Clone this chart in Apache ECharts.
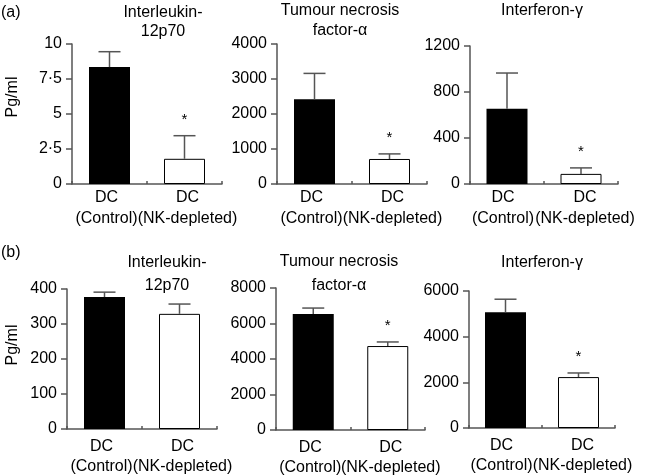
<!DOCTYPE html>
<html><head><meta charset="utf-8">
<script src="https://cdn.jsdelivr.net/npm/echarts@6/dist/echarts.min.js"></script>
<style>html,body{margin:0;padding:0;background:#fff}#c{width:648px;height:476px}</style>
</head><body><div id="c"></div>
<script>
const categories = ['DC\n(Control)', 'DC\n(NK-depleted)'];
const panelTitles = ['Interleukin-\n12p70', 'Tumour necrosis\nfactor-\u03b1', 'Interferon-\u03b3'];
const rowLabels = ['(a)', '(b)'];
const yAxisTitle = 'Pg/ml';
// Row (a)
const rowAMeans = [[8.35, 1.8], [2420, 715], [655, 88]];
const rowAErrTops = [[9.45, 3.45], [3160, 860], [965, 140]];
const rowASignificant = [[0, 1], [0, 1], [0, 1]];
const rowAMax = [10, 4000, 1200];
const rowAStep = [2.5, 1000, 400];
// Row (b)
const rowBMeans = [[377, 329], [6530, 4730], [5070, 2230]];
const rowBErrTops = [[391, 357], [6870, 4960], [5640, 2410]];
const rowBSignificant = [[0, 0], [0, 1], [0, 1]];
const rowBMax = [400, 8000, 6000];
const rowBStep = [100, 2000, 2000];

const FONT = "'Liberation Sans', Arial, sans-serif";
const AX = '#555';
const grids = [
  {left: 72, top: 44, width: 150, height: 140},
  {left: 277, top: 44, width: 150, height: 140},
  {left: 470, top: 46, width: 148, height: 138},
  {left: 67, top: 289, width: 150, height: 140},
  {left: 276, top: 288, width: 149, height: 142},
  {left: 469, top: 291, width: 146, height: 137}
].map(g => Object.assign(g, {containLabel: false, outerBoundsMode: 'none'}));
const labelMargins = [3, 3, 3, 8, 8, 8];
const labelPads = [6, 6, 8, 6, 6, 8];
const titlePos = [
  {x: 163, y: 13, lh: 19}, {x: 340, y: 11, lh: 20}, {x: 542, y: 11, lh: 20},
  {x: 167, y: 263, lh: 23}, {x: 339, y: 262, lh: 24}, {x: 542, y: 263, lh: 24}
];

const means = rowAMeans.concat(rowBMeans);
const tops = rowAErrTops.concat(rowBErrTops);
const sigs = rowASignificant.concat(rowBSignificant);
const maxes = rowAMax.concat(rowBMax);
const steps = rowAStep.concat(rowBStep);

function renderErr(params, api) {
  const x = api.value(0), m = api.value(1), t = api.value(2), s = api.value(3);
  const p0 = api.coord([x, m]);
  const p1 = api.coord([x, t]);
  const ch = [
    {type: 'line', shape: {x1: p0[0], y1: p0[1], x2: p1[0], y2: p1[1]}, style: {stroke: AX, lineWidth: 1.5}},
    {type: 'line', shape: {x1: p1[0] - 11, y1: p1[1], x2: p1[0] + 11, y2: p1[1]}, style: {stroke: AX, lineWidth: 1.5}}
  ];
  if (s) ch.push({type: 'text', x: p1[0], y: p1[1] - 16,
    style: {text: '*', fontSize: 15, fontFamily: FONT, fill: '#000', align: 'center', verticalAlign: 'middle'}});
  return {type: 'group', children: ch};
}

function catLabel(value, idx) {
  const parts = value.split('\n');
  const k = idx === 0 ? 'l' : 'r';
  return parts.map(p => '{' + k + '|' + p + '}').join('\n');
}

const xAxes = [], yAxes = [], series = [], graphics = [];
for (let i = 0; i < 6; i++) {
  const lh = i < 3 ? 21 : 20;
  const pd = labelPads[i];
  xAxes.push({
    type: 'category', gridIndex: i, data: categories,
    axisLine: {lineStyle: {color: AX, width: 1.5}},
    axisTick: {show: true, inside: true, length: 3, lineStyle: {color: AX, width: 1.5}},
    axisLabel: {fontSize: 16, fontFamily: FONT, color: '#000', lineHeight: lh, margin: labelMargins[i], interval: 0,
      formatter: catLabel,
      rich: {
        l: {fontSize: 16, fontFamily: FONT, color: '#000', lineHeight: lh, padding: [0, pd, 0, 0]},
        r: {fontSize: 16, fontFamily: FONT, color: '#000', lineHeight: lh, padding: [0, 0, 0, pd]}
      }}
  });
  yAxes.push({
    type: 'value', gridIndex: i, min: 0, max: maxes[i], interval: steps[i],
    axisLine: {show: true, lineStyle: {color: AX, width: 1.5}},
    axisTick: {show: true, length: 6, lineStyle: {color: AX, width: 1.5}},
    splitLine: {show: false},
    axisLabel: {fontSize: 16, fontFamily: FONT, color: '#000', margin: 10,
      formatter: v => String(v).replace('.', '\u00b7')}
  });
  series.push({
    type: 'bar', xAxisIndex: i, yAxisIndex: i, barWidth: 41, animation: false,
    data: means[i].map((v, j) => ({value: v, itemStyle: j === 0
      ? {color: '#000'} : {color: '#fff', borderColor: '#000', borderWidth: 1}}))
  });
  series.push({
    type: 'custom', xAxisIndex: i, yAxisIndex: i, animation: false, renderItem: renderErr,
    data: means[i].map((v, j) => [j, v, tops[i][j], sigs[i][j]]), z: 5
  });
  const tp = titlePos[i];
  const lines = panelTitles[i % 3].split('\n').length;
  graphics.push({type: 'text', x: tp.x, y: tp.y + (lines - 1) * tp.lh / 2,
    style: {text: panelTitles[i % 3], fontSize: 16, fontFamily: FONT, fill: '#000',
      align: 'center', verticalAlign: 'middle', lineHeight: tp.lh}});
}
graphics.push({type: 'text', x: 1, y: 13, style: {text: rowLabels[0], fontSize: 16, fontFamily: FONT, fill: '#000', align: 'left', verticalAlign: 'middle'}});
graphics.push({type: 'text', x: 1, y: 253, style: {text: rowLabels[1], fontSize: 16, fontFamily: FONT, fill: '#000', align: 'left', verticalAlign: 'middle'}});
graphics.push({type: 'text', x: 13, y: 97, rotation: Math.PI / 2, style: {text: yAxisTitle, fontSize: 16, fontFamily: FONT, fill: '#000', align: 'center', verticalAlign: 'middle'}});
graphics.push({type: 'text', x: 13, y: 345, rotation: Math.PI / 2, style: {text: yAxisTitle, fontSize: 16, fontFamily: FONT, fill: '#000', align: 'center', verticalAlign: 'middle'}});

const chart = echarts.init(document.getElementById('c'), null, {renderer: 'canvas'});
chart.setOption({
  animation: false,
  backgroundColor: '#fff',
  grid: grids,
  xAxis: xAxes,
  yAxis: yAxes,
  series: series,
  graphic: graphics
});
</script></body></html>
